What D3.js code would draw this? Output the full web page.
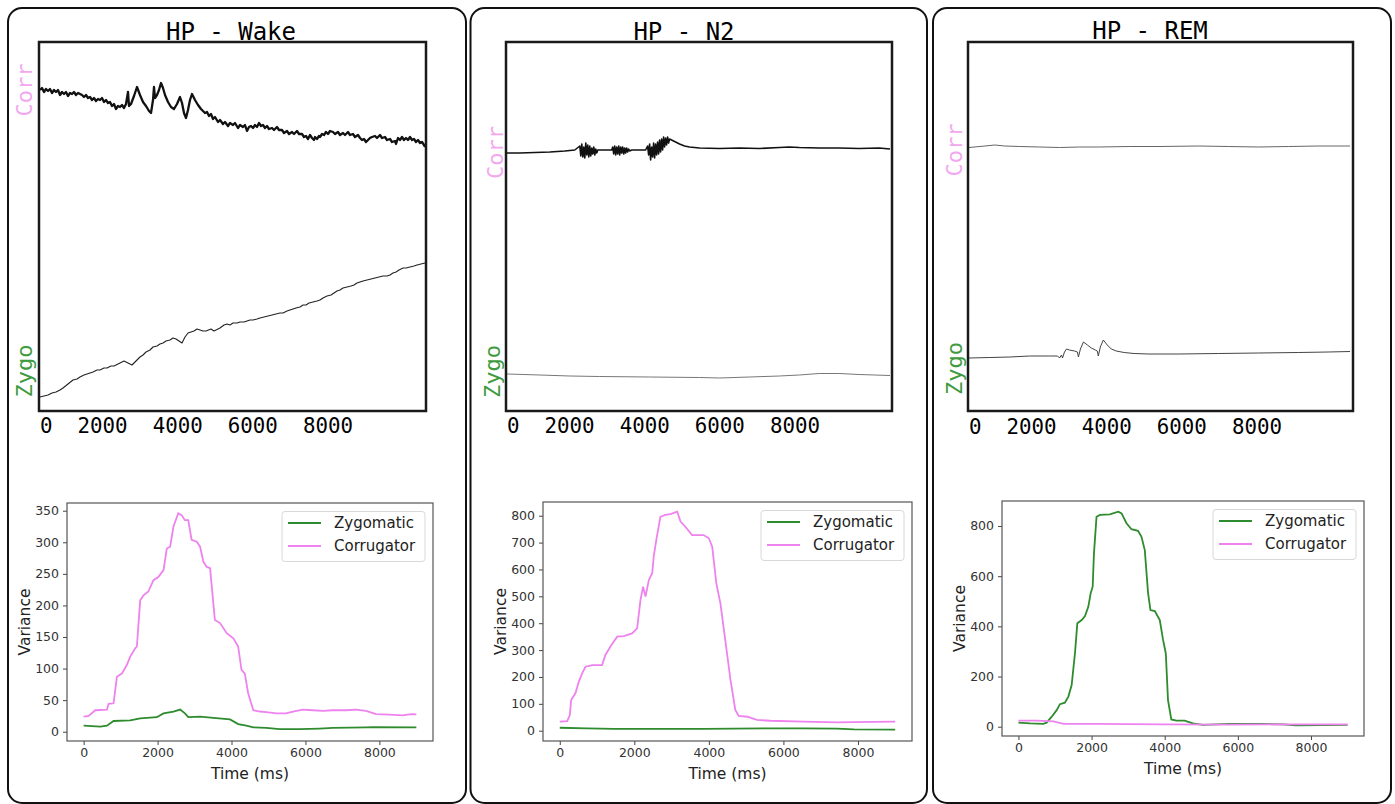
<!DOCTYPE html>
<html><head><meta charset="utf-8">
<script src="https://cdn.jsdelivr.net/npm/d3@7"></script>
<style>body{margin:0;background:#fff} svg{display:block}</style>
</head><body>
<svg id="c" width="1395" height="804"></svg>
<script>
// ---------- DATA ----------
const titles = ["HP - Wake", "HP - N2", "HP - REM"];
const topTickLabels = ["0", "2000", "4000", "6000", "8000"];
const channelLabels = ["Corr", "Zygo"];
const seriesNames = ["Zygomatic", "Corrugator"];
const varTicks = [[0,50,100,150,200,250,300,350],[0,100,200,300,400,500,600,700,800],[0,200,400,600,800]];
const timeTicks = [0, 2000, 4000, 6000, 8000];

// raw traces: [sample, amplitude]
const wakeCorrRaw = [[25,321],[75,323],[125,319],[175,322],[225,320],[275,322],[325,318],[375,321],[425,319],[475,321],[525,316],[575,319],[625,317],[675,319],[725,315],[775,318],[825,317],[875,319],[925,316],[975,318],[1025,317],[1075,316],[1125,314],[1175,316],[1225,313],[1275,314],[1325,311],[1375,313],[1425,310],[1475,312],[1525,311],[1575,313],[1625,309],[1675,311],[1725,308],[1775,309],[1825,305],[1875,307],[1925,302],[1975,305],[2025,304],[2075,306],[2125,303],[2175,307],[2225,319],[2250,305],[2300,307],[2375,315],[2450,324],[2525,316],[2600,309],[2675,305],[2750,300],[2800,298],[2850,311],[2875,324],[2900,313],[2950,316],[3000,321],[3050,328],[3100,323],[3150,316],[3225,309],[3300,304],[3375,302],[3450,307],[3525,314],[3575,308],[3625,298],[3675,293],[3725,301],[3775,311],[3825,317],[3900,311],[3975,306],[4050,302],[4100,300],[4150,298],[4200,299],[4250,295],[4300,297],[4350,292],[4400,294],[4475,289],[4525,291],[4600,287],[4650,289],[4725,285],[4775,288],[4850,286],[4900,288],[4975,283],[5025,286],[5100,284],[5150,286],[5200,280],[5250,284],[5300,285],[5350,283],[5400,286],[5450,284],[5500,288],[5550,285],[5600,286],[5650,283],[5700,285],[5750,282],[5825,283],[5875,281],[5950,284],[6000,281],[6075,281],[6125,278],[6200,280],[6250,277],[6325,279],[6375,277],[6450,280],[6500,277],[6575,277],[6625,274],[6675,275],[6725,272],[6775,276],[6825,273],[6875,271],[6900,274],[6950,272],[7000,275],[7025,274],[7075,277],[7125,276],[7175,279],[7225,277],[7275,280],[7350,279],[7400,277],[7475,279],[7525,276],[7600,278],[7650,276],[7725,279],[7775,276],[7850,277],[7900,274],[7975,276],[8025,273],[8075,271],[8125,272],[8175,269],[8225,271],[8275,273],[8325,274],[8400,275],[8450,273],[8525,276],[8575,273],[8650,274],[8700,271],[8775,272],[8825,269],[8900,270],[8925,267],[8975,273],[9025,271],[9075,274],[9125,271],[9175,273],[9225,271],[9275,274],[9325,271],[9375,272],[9425,269],[9475,271],[9525,268],[9575,269],[9625,266],[9650,264]];
const wakeZygoRaw = [[25,14],[125,15],[225,16],[325,18],[425,19],[525,21],[600,23],[725,27],[850,31],[950,32],[1025,34],[1125,36],[1200,37],[1350,39],[1450,41],[1525,41],[1625,43],[1700,43],[1800,45],[1875,45],[2025,48],[2125,50],[2225,48],[2325,46],[2425,50],[2525,54],[2600,56],[2675,59],[2775,61],[2850,64],[2950,65],[3025,67],[3100,68],[3175,70],[3275,71],[3350,73],[3425,72],[3500,70],[3575,68],[3650,74],[3725,78],[3800,79],[3875,80],[3950,82],[4025,81],[4100,80],[4175,80],[4300,82],[4375,80],[4425,81],[4525,83],[4625,86],[4700,87],[4775,86],[4850,88],[4950,88],[5025,89],[5125,89],[5200,90],[5275,91],[5350,91],[5450,92],[5525,93],[5625,94],[5725,95],[5825,96],[5925,97],[6025,98],[6100,98],[6200,100],[6275,101],[6350,102],[6425,103],[6525,104],[6600,106],[6675,106],[6750,108],[6850,109],[6950,110],[7025,111],[7100,113],[7200,115],[7300,116],[7375,118],[7450,120],[7525,121],[7600,123],[7700,124],[7800,125],[7875,126],[7950,128],[8025,129],[8100,130],[8200,131],[8300,132],[8400,133],[8500,134],[8600,135],[8700,135],[8775,136],[8850,138],[8925,139],[9000,141],[9100,143],[9175,143],[9275,144],[9375,145],[9450,146],[9550,147],[9650,148]];
const n2CorrRaw = [[25,258],[350,258],[725,258.5],[1100,259],[1475,260],[1725,261],[1850,265],[1875,255],[1900,267],[1925,254],[1950,264],[1975,253],[2000,268],[2025,256],[2050,266],[2075,254],[2100,265],[2125,255],[2150,263],[2175,257],[2200,264],[2225,256],[2250,262],[2275,258],[2300,261],[2400,261],[2550,261],[2650,261],[2675,264],[2700,257],[2725,265],[2750,256],[2775,264],[2800,257],[2825,265],[2850,256],[2875,264],[2900,258],[2925,264],[2950,257],[2975,263],[3000,258],[3025,263],[3050,259],[3075,262],[3100,260],[3150,261],[3350,261],[3500,261],[3550,265],[3575,256],[3600,267],[3625,251],[3650,264],[3675,254],[3700,268],[3725,253],[3750,267],[3775,256],[3800,269],[3825,257],[3850,271],[3875,259],[3900,272],[3925,261],[3950,274],[3975,264],[4000,273],[4025,266],[4050,274],[4075,268],[4100,272],[4150,271],[4250,269],[4350,267],[4475,265],[4600,264],[4850,263],[5350,262.5],[5850,263],[6350,262.5],[6850,263.5],[7100,264],[7350,263.5],[7850,263],[8350,263],[8850,262.5],[9350,263],[9625,262]];
const n2ZygoRaw = [[25,37],[850,36],[1600,35],[2350,34.5],[3600,34],[4850,33.5],[5350,33],[6100,34],[6850,35],[7350,36],[7850,37.5],[8350,37.5],[8850,36.5],[9625,35.5]];
const remCorrRaw = [[25,263.5],[425,265],[675,266],[925,265],[1300,264.5],[1800,264],[2300,263.5],[2800,264],[3300,264],[4050,264.5],[4800,264.5],[5800,265],[6550,264.5],[7300,264],[8050,264.5],[8800,265],[9600,265]];
const remZygoRaw = [[25,53],[550,53.5],[1050,54],[1550,55],[2050,55],[2250,55],[2300,53],[2350,56],[2375,53],[2425,59],[2475,62],[2550,61],[2675,60],[2750,59],[2775,54],[2825,62],[2900,69],[3000,66],[3100,63],[3200,61],[3250,60],[3275,55],[3325,64],[3400,71],[3500,66],[3600,62],[3725,60],[3925,58.5],[4175,57.5],[4550,57],[5300,57],[6300,57.5],[7300,58],[8300,58.5],[9050,59],[9600,59.5]];

// variance: [time ms, variance]
const wakeZygVar = [[0,9.5],[450,8],[630,9.5],[810,17],[1260,18],[1530,21],[1980,23],[2160,29],[2430,32],[2610,35],[2740,29],[2830,23],[3150,24],[3510,22],[3960,19.5],[4180,12],[4400,9.5],[4590,7],[4940,6],[5300,4],[5840,4],[6380,5],[6740,6],[7640,7],[7820,7.4],[9000,7]];
const wakeCorrVar = [[0,23.8],[135,25],[315,34],[630,35],[675,44],[810,45],[900,87],[1035,92],[1170,106],[1260,119],[1395,132],[1440,135],[1530,208],[1620,216],[1750,222],[1890,240],[2020,245],[2160,256],[2250,290],[2340,293],[2430,325],[2560,346],[2650,343],[2740,335],[2830,335],[2920,304],[3060,301],[3150,293],[3240,269],[3330,261],[3420,259],[3550,177],[3690,172],[3870,156],[4050,148],[4180,135],[4270,98],[4360,92],[4450,61],[4590,34],[4770,32],[4940,31],[5210,29],[5480,29],[5660,32],[5930,35],[6200,34],[6470,33],[6740,34],[7100,34],[7370,35],[7640,33],[7910,28],[8270,27],[8630,26],[8860,28],[9000,27.5]];
const n2ZygVar = [[0,11],[730,9],[1450,6.5],[3860,6.5],[5650,9],[6540,9],[7440,7.5],[7890,5],[9000,4]];
const n2CorrVar = [[0,33.5],[200,36],[270,58],[305,114],[420,139],[510,182],[600,213],[690,238],[870,244],[1135,244],[1225,282],[1360,313],[1540,350],[1720,352],[1940,362],[2075,381],[2165,486],[2235,536],[2300,499],[2390,561],[2480,586],[2520,648],[2590,710],[2700,796],[2830,803],[2970,806],[3150,815],[3240,778],[3370,759],[3550,728],[3860,728],[4000,716],[4090,685],[4200,548],[4310,474],[4440,337],[4580,189],[4710,77],[4800,55],[5030,52],[5290,40],[5650,37],[6540,33.5],[7440,31],[7890,32],[9000,33.5]];
const remZygVar = [[0,16],[320,13],[680,11],[770,16],[910,40],[1045,66],[1135,90],[1270,96],[1365,120],[1455,166],[1545,292],[1610,412],[1730,425],[1820,441],[1910,478],[1975,532],[2030,558],[2065,691],[2135,837],[2230,844],[2500,846],[2730,857],[2820,850],[2955,811],[3090,787],[3270,781],[3365,757],[3455,704],[3545,532],[3610,465],[3730,461],[3865,425],[3955,346],[4030,292],[4090,106],[4180,29],[4320,24],[4545,24],[4770,13],[5045,7],[5770,11],[6680,11],[7230,9],[7590,5],[9000,7]];
const remCorrVar = [[0,24],[500,24],[955,21],[1230,11],[2135,11],[3955,9.5],[5770,8],[7590,9.5],[9000,9.5]];

const rawCorr = [wakeCorrRaw, n2CorrRaw, remCorrRaw];
const rawZygo = [wakeZygoRaw, n2ZygoRaw, remZygoRaw];
const varZyg = [wakeZygVar, n2ZygVar, remZygVar];
const varCorr = [wakeCorrVar, n2CorrVar, remCorrVar];

// ---------- LAYOUT ----------
const L = [
  {frame:[8,8,458,795], titleX:231, titleY:39.5, top:[39,42,387,369], corrX:32, corrY:90, zygoX:32, zygoY:371, tickY:433,
   bot:[67,503,366,238], ydom:[-14.7,362.2]},
  {frame:[470.5,8,456.5,795], titleX:684, titleY:39.5, top:[506,42,386,369], corrX:503, corrY:152.5, zygoX:500, zygoY:371.5, tickY:433,
   bot:[543,502,369,239], ydom:[-38.3,851]},
  {frame:[933,8,458,795], titleX:1150, titleY:38.5, top:[968,42,385,369], corrX:962, corrY:150, zygoX:962, zygoY:368.5, tickY:434,
   bot:[1002,501,362,235], ydom:[-37,899.6]}
];
const topStyles = [
  {corr:{w:2.3,c:"#111"}, zygo:{w:1.1,c:"#222"}},
  {corr:{w:1.6,c:"#111"}, zygo:{w:1.0,c:"#777"}},
  {corr:{w:1.0,c:"#666"}, zygo:{w:1.0,c:"#444"}}
];
const GREEN = "#2e8b2e", VIOLET = "#ee82ee";
const CORR_TXT = "#f2a8ef", ZYGO_TXT = "#3f9b3f";

const svg = d3.select("#c");

L.forEach((p, i) => {
  const g = svg.append("g");
  g.append("rect").attr("x",p.frame[0]).attr("y",p.frame[1]).attr("width",p.frame[2]).attr("height",p.frame[3])
    .attr("rx",14).attr("fill","none").attr("stroke","#111").attr("stroke-width",2);
  g.append("text").attr("x",p.titleX).attr("y",p.titleY).attr("text-anchor","middle")
    .attr("font-family","DejaVu Sans Mono").attr("font-size",24).attr("fill","#000")
    .style("white-space","pre").text(titles[i]);

  // ----- top raw plot -----
  const [tx,ty,tw,th] = p.top;
  const xs = d3.scaleLinear().domain([0,9675]).range([tx,tx+tw]);
  const ys = d3.scaleLinear().domain([0,369]).range([ty+th,ty]);
  const line = d3.line().x(d=>xs(d[0])).y(d=>ys(d[1]));
  const st = topStyles[i];
  g.append("path").datum(rawZygo[i]).attr("d",line).attr("fill","none")
    .attr("stroke",st.zygo.c).attr("stroke-width",st.zygo.w).attr("stroke-linejoin","round");
  g.append("path").datum(rawCorr[i]).attr("d",line).attr("fill","none")
    .attr("stroke",st.corr.c).attr("stroke-width",st.corr.w).attr("stroke-linejoin","round");
  g.append("rect").attr("x",tx).attr("y",ty).attr("width",tw).attr("height",th)
    .attr("fill","none").attr("stroke","#1a1a1a").attr("stroke-width",2.5);
  g.append("text").attr("transform",`translate(${p.corrX},${p.corrY}) rotate(-90)`).attr("text-anchor","middle")
    .attr("font-family","DejaVu Sans Mono").attr("font-size",22).attr("fill",CORR_TXT).text(channelLabels[0]);
  g.append("text").attr("transform",`translate(${p.zygoX},${p.zygoY}) rotate(-90)`).attr("text-anchor","middle")
    .attr("font-family","DejaVu Sans Mono").attr("font-size",22).attr("fill",ZYGO_TXT).text(channelLabels[1]);
  g.append("text").attr("x",tx+1).attr("y",p.tickY).attr("font-family","DejaVu Sans Mono").attr("font-size",20.8)
    .attr("fill","#000").attr("xml:space","preserve").style("white-space","pre").text(topTickLabels.join("  "));

  // ----- bottom variance plot -----
  const [bx,by,bw,bh] = p.bot;
  const vx = d3.scaleLinear().domain([-450,9450]).range([bx,bx+bw]);
  const vy = d3.scaleLinear().domain(p.ydom).range([by+bh,by]);
  const vline = d3.line().x(d=>vx(d[0])).y(d=>vy(d[1]));
  const font = "DejaVu Sans";
  const xa = g.append("g").attr("transform",`translate(0,${by+bh})`)
    .call(d3.axisBottom(vx).tickValues(timeTicks).tickSize(4).tickPadding(3.5).tickFormat(d3.format("d")));
  const ya = g.append("g").attr("transform",`translate(${bx},0)`)
    .call(d3.axisLeft(vy).tickValues(varTicks[i]).tickSize(4).tickPadding(4).tickFormat(d3.format("d")));
  [xa,ya].forEach(a=>{
    a.select(".domain").remove();
    a.selectAll(".tick line").attr("stroke","#444").attr("stroke-width",1);
    a.selectAll(".tick text").attr("font-family",font).attr("font-size",12.5).attr("fill","#333");
  });
  g.append("path").datum(varZyg[i]).attr("d",vline).attr("fill","none").attr("stroke",GREEN).attr("stroke-width",1.8);
  g.append("path").datum(varCorr[i]).attr("d",vline).attr("fill","none").attr("stroke",VIOLET).attr("stroke-width",1.8);
  g.append("rect").attr("x",bx).attr("y",by).attr("width",bw).attr("height",bh)
    .attr("fill","none").attr("stroke","#555").attr("stroke-width",1.2);
  g.append("text").attr("x",bx+bw/2).attr("y",by+bh+37.5).attr("text-anchor","middle")
    .attr("font-family",font).attr("font-size",15.5).attr("fill","#222").text("Time (ms)");
  g.append("text").attr("transform",`translate(${bx-37},${by+bh/2}) rotate(-90)`).attr("text-anchor","middle")
    .attr("font-family",font).attr("font-size",15.5).attr("fill","#222").text("Variance");
  const lw = 143, lh = 50, lx = bx+bw-8-lw, ly = by+8.5;
  g.append("rect").attr("x",lx).attr("y",ly).attr("width",lw).attr("height",lh).attr("rx",3)
    .attr("fill","#fff").attr("fill-opacity",0.8).attr("stroke","#d8d8d8").attr("stroke-width",1);
  [GREEN, VIOLET].forEach((c,k)=>{
    const yy = ly + 11.5 + k*23;
    g.append("line").attr("x1",lx+6).attr("x2",lx+39).attr("y1",yy).attr("y2",yy).attr("stroke",c).attr("stroke-width",1.8);
    g.append("text").attr("x",lx+52).attr("y",yy).attr("dy","0.36em").attr("font-family",font).attr("font-size",15)
      .attr("fill","#222").text(seriesNames[k]);
  });
});
</script>
</body></html>
